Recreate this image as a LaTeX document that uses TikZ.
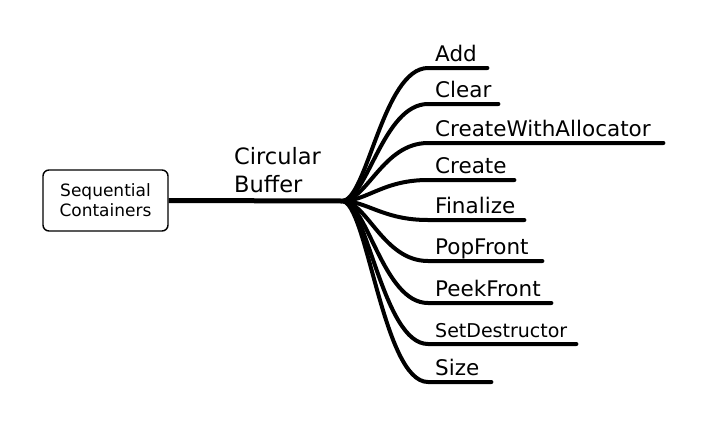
\documentclass[tikz,border=0pt]{standalone}
\usepackage{fontspec}
\setmainfont{DejaVu Sans}

\begin{document}
\begin{tikzpicture}[x=1pt, y=-1pt,
  root/.style={rectangle, rounded corners=6pt, draw, line width=1.4pt, minimum width=125pt, minimum height=61pt, align=center, font=\fontsize{17}{20}\selectfont},
  topic/.style={anchor=south west, inner sep=0pt, text depth=0pt, align=left, font=\fontsize{22.5}{28}\selectfont},
  leaf/.style={anchor=south west, inner xsep=7pt, inner ysep=6pt, text depth=0pt, align=left, font=\fontsize{21.5}{24}\selectfont},
  trunk/.style={line width=5pt},
  branch/.style={line width=4pt, line cap=round}
]
\useasboundingbox (0,0) rectangle (702,426);
\node[root] (seq) at (105.5,200.5) {Sequential\\Containers};
\node[topic] (cb) at (234,193) {Circular\\Buffer};
\coordinate (hub) at (342,201);
\draw[trunk] (seq.east) -- (hub);
% methods
\node[leaf, text width=45pt] (add) at (428,68) {Add};
\node[leaf, text width=56pt] (clear) at (428,104) {Clear};
\node[leaf, text width=221pt] (cwa) at (428,143) {CreateWithAllocator};
\node[leaf, text width=72pt] (create) at (428,180) {Create};
\node[leaf, text width=82pt] (final) at (428,220) {Finalize};
\node[leaf, text width=100pt] (pop) at (428,261) {PopFront};
\node[leaf, text width=109pt] (peek) at (428,303) {PeekFront};
\node[leaf, text width=134pt, font=\fontsize{19}{22}\selectfont] (setd) at (428,344) {SetDestructor};
\node[leaf, text width=49pt] (size) at (428,382) {Size};
\draw[branch] (hub) .. controls +(25,0) and +(-45,0) .. (add.south west) -- (add.south east);
\draw[branch] (hub) .. controls +(25,0) and +(-45,0) .. (clear.south west) -- (clear.south east);
\draw[branch] (hub) .. controls +(25,0) and +(-45,0) .. (cwa.south west) -- (cwa.south east);
\draw[branch] (hub) .. controls +(25,0) and +(-45,0) .. (create.south west) -- (create.south east);
\draw[branch] (hub) .. controls +(25,0) and +(-45,0) .. (final.south west) -- (final.south east);
\draw[branch] (hub) .. controls +(25,0) and +(-45,0) .. (pop.south west) -- (pop.south east);
\draw[branch] (hub) .. controls +(25,0) and +(-45,0) .. (peek.south west) -- (peek.south east);
\draw[branch] (hub) .. controls +(25,0) and +(-45,0) .. (setd.south west) -- (setd.south east);
\draw[branch] (hub) .. controls +(25,0) and +(-45,0) .. (size.south west) -- (size.south east);
\end{tikzpicture}
\end{document}
